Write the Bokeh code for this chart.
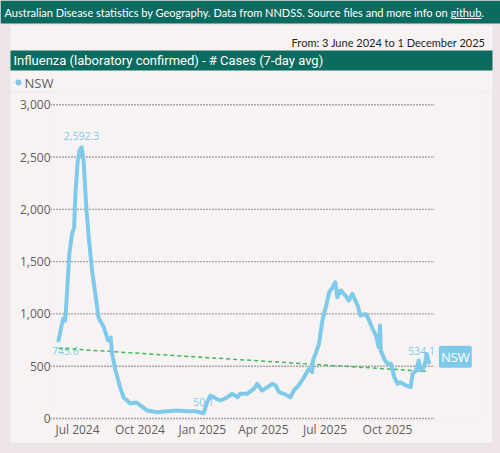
import numpy as np
import pandas as pd
from bokeh.plotting import figure
from bokeh.layouts import column
from bokeh.models import (Range1d, FixedTicker, NumeralTickFormatter, BoxAnnotation,
                          Label, ColumnDataSource)
from bokeh.core.properties import value
from bokeh.embed import file_html
from bokeh.resources import INLINE

# ---------------- data ----------------
dates = ["2024-06-03","2024-06-06","2024-06-10","2024-06-13","2024-06-16","2024-06-19",
         "2024-06-23","2024-06-26","2024-06-28","2024-07-01","2024-07-04","2024-07-07",
         "2024-07-10","2024-07-14","2024-07-18","2024-07-23","2024-07-28","2024-08-01",
         "2024-08-09","2024-08-15","2024-08-19","2024-08-21","2024-08-26","2024-09-02",
         "2024-09-07","2024-09-17","2024-09-26","2024-10-02","2024-10-12","2024-10-27",
         "2024-11-10","2024-11-25","2024-12-10","2024-12-22","2025-01-03","2025-01-08",
         "2025-01-13","2025-01-21","2025-01-28","2025-02-07","2025-02-14","2025-02-22",
         "2025-02-26","2025-03-08","2025-03-18","2025-03-23","2025-03-30","2025-04-07",
         "2025-04-14","2025-04-19","2025-04-24","2025-05-01","2025-05-11","2025-05-16",
         "2025-05-23","2025-05-31","2025-06-07","2025-06-12","2025-06-13","2025-06-17",
         "2025-06-22","2025-06-27","2025-07-02","2025-07-07","2025-07-12","2025-07-16",
         "2025-07-19","2025-07-24","2025-07-31","2025-08-05","2025-08-10","2025-08-18",
         "2025-08-22","2025-08-30","2025-09-04","2025-09-09","2025-09-14","2025-09-18",
         "2025-09-20","2025-09-21","2025-09-26","2025-10-01","2025-10-06","2025-10-11",
         "2025-10-16","2025-10-20","2025-10-28","2025-11-04","2025-11-07","2025-11-12",
         "2025-11-16","2025-11-19","2025-11-24","2025-11-28","2025-12-01"]
cases = [745.6, 841, 956, 937, 1252, 1577,
         1768, 1826, 2151, 2438, 2562, 2592.3,
         2466, 2017, 1702, 1386, 1157, 966,
         870, 746, 774, 621, 459, 296,
         201, 143, 153, 124, 76, 60,
         70, 76, 70, 70, 50.1, 156,
         220, 191, 172, 204, 236, 204,
         236, 236, 284, 332, 268, 300,
         332, 316, 252, 236, 204, 268,
         316, 395, 475, 443, 554, 619,
         714, 937, 1064, 1207, 1255, 1303,
         1160, 1224, 1176, 1128, 1192, 1080,
         985, 1000, 937, 857, 793, 682,
         889, 650, 571, 523, 523, 395,
         332, 347, 316, 300, 427, 459,
         554, 459, 491, 618, 534.1]
trend_dates = ["2024-06-03", "2025-12-01"]
trend_values = [672, 449]
label_dates = ["2024-06-03", "2024-07-07", "2025-01-03", "2025-12-01"]
label_values = [745.6, 2592.3, 50.1, 534.1]
label_texts = ["745.6", "2,592.3", "50.1", "534.1"]
tick_dates = ["2024-07-01", "2024-10-01", "2025-01-01", "2025-04-01", "2025-07-01", "2025-10-01"]
tick_labels = ["Jul 2024", "Oct 2024", "Jan 2025", "Apr 2025", "Jul 2025", "Oct 2025"]
y_ticks = [0, 500, 1000, 1500, 2000, 2500, 3000]

series_name = "NSW"
header_text = "Australian Disease statistics by Geography. Data from NNDSS. Source files and more info on github."
range_text = "From: 3 June 2024 to 1 December 2025"
title_text = "Influenza (laboratory confirmed) - # Cases (7-day avg)"

# ---------------- styling ----------------
TEAL = "#0c6b5f"
OUTER = "#ece4e6"
PANEL = "#f8f3f3"
BLUE = "#7fcaea"
GREEN = "#3dba5a"
GRID = "#555555"
FONT = "Open Sans"

W, H = 500, 453
TOP_H = 92

# ---------------- top strip: header, date range, title bar, legend ----------------
top = figure(width=W, height=TOP_H, x_range=Range1d(0, W), y_range=Range1d(0, TOP_H),
             min_border=0, x_axis_location=None, y_axis_location=None,
             toolbar_location=None, output_backend="svg", title=None,
             frame_align=False)
top.background_fill_color = OUTER
top.border_fill_color = OUTER
top.outline_line_color = None
top.xgrid.visible = False
top.ygrid.visible = False

def ty(Y):
    return TOP_H - Y

def tbox(x0, y0, x1, y1, color, radius=0):
    top.add_layout(BoxAnnotation(left=x0, right=x1, top=ty(y0), bottom=ty(y1),
                                 fill_color=color, fill_alpha=1, line_color=None,
                                 border_radius=radius))

def tlabel(X, Y, text, color, size, font, align="left"):
    top.add_layout(Label(x=X, y=ty(Y), text=text, text_align=align,
                         text_baseline="middle", text_color=color,
                         text_font=font, text_font_size=size))

tbox(0, 0, W, 23, TEAL)
tbox(10, 25, 492, TOP_H, PANEL)
tbox(10, 50, 492, 70, TEAL)
tlabel(4, 12, header_text, "white", "11px", "Lato")
tbox(453, 17.6, 481, 18.6, "white")              # underline of "github"
tlabel(485, 42, range_text, "#252423", "11px", "Lato", align="right")
tlabel(13, 60, title_text, "white", "13px", "Roboto")
tbox(15, 79, 21, 85, BLUE, radius=3)
tlabel(24, 82, series_name, "#605e5c", "13px", FONT)

# ---------------- chart ----------------
ts = pd.to_datetime(dates)
CH_W, CH_H = 482, 351
p = figure(width=CH_W, height=CH_H, output_backend="svg", toolbar_location=None,
           x_axis_type="datetime",
           x_range=Range1d(pd.Timestamp("2024-05-22 05:00"), pd.Timestamp("2026-02-18")),
           y_range=Range1d(-19, 3117),
           min_border_left=40, min_border_right=10, min_border_top=0,
           min_border_bottom=23, title=None, margin=(0, 8, 10, 10),
           frame_align=False)
p.background_fill_color = PANEL
p.border_fill_color = PANEL
p.outline_line_color = None

tick_ms = [pd.Timestamp(d).value / 1e6 for d in tick_dates]
p.xaxis.ticker = FixedTicker(ticks=tick_ms)
p.xaxis.major_label_overrides = {t: l for t, l in zip(tick_ms, tick_labels)}
p.yaxis.ticker = FixedTicker(ticks=y_ticks)
p.yaxis.formatter = NumeralTickFormatter(format="0,0")
for ax in (p.xaxis, p.yaxis):
    ax.axis_line_color = None
    ax.major_tick_line_color = None
    ax.minor_tick_line_color = None
    ax.major_tick_out = 0
    ax.major_tick_in = 0
    ax.major_label_text_font = FONT
    ax.major_label_text_font_size = "12px"
    ax.major_label_text_color = "#605e5c"
p.xaxis.major_label_standoff = 0
p.yaxis.major_label_standoff = 0
p.xgrid.visible = False
p.ygrid.visible = False

# horizontal dotted gridlines at the y ticks, ending a little after the last date
grid_start = pd.Timestamp("2024-05-22 05:00")
grid_end = pd.Timestamp("2025-12-09 14:00")
p.segment(x0=[grid_start] * len(y_ticks), x1=[grid_end] * len(y_ticks),
          y0=y_ticks, y1=y_ticks, line_color=GRID, line_width=1.4, line_dash="1 2")

# data labels (drawn first so the line passes over them)
lsrc = ColumnDataSource(dict(x=pd.to_datetime(label_dates), y=label_values, t=label_texts,
                             xo=[7, 0, 0, 6], yo=[10, -11, -11, -12],
                             al=["center", "center", "center", "right"]))
p.text(x="x", y="y", text="t", source=lsrc, x_offset="xo", y_offset="yo",
       text_align="al", text_baseline="middle", text_color=BLUE,
       text_font=value(FONT), text_font_size="10.5px")

p.line(pd.to_datetime(trend_dates), trend_values, line_color=GREEN, line_width=1.5,
       line_dash="4 3")
p.line(ts, cases, line_color=BLUE, line_width=4, line_join="round", line_cap="round")

p.add_layout(Label(x=ts[-1], y=cases[-1], text=series_name, x_offset=10, y_offset=6,
                   text_align="left", text_baseline="middle", text_color="white",
                   text_font=FONT, text_font_size="13px",
                   background_fill_color=BLUE, padding=2, border_radius=2))

page = column(top, p, styles={"background-color": OUTER}, spacing=0)

open("out.html", "w").write(file_html(page, INLINE))
